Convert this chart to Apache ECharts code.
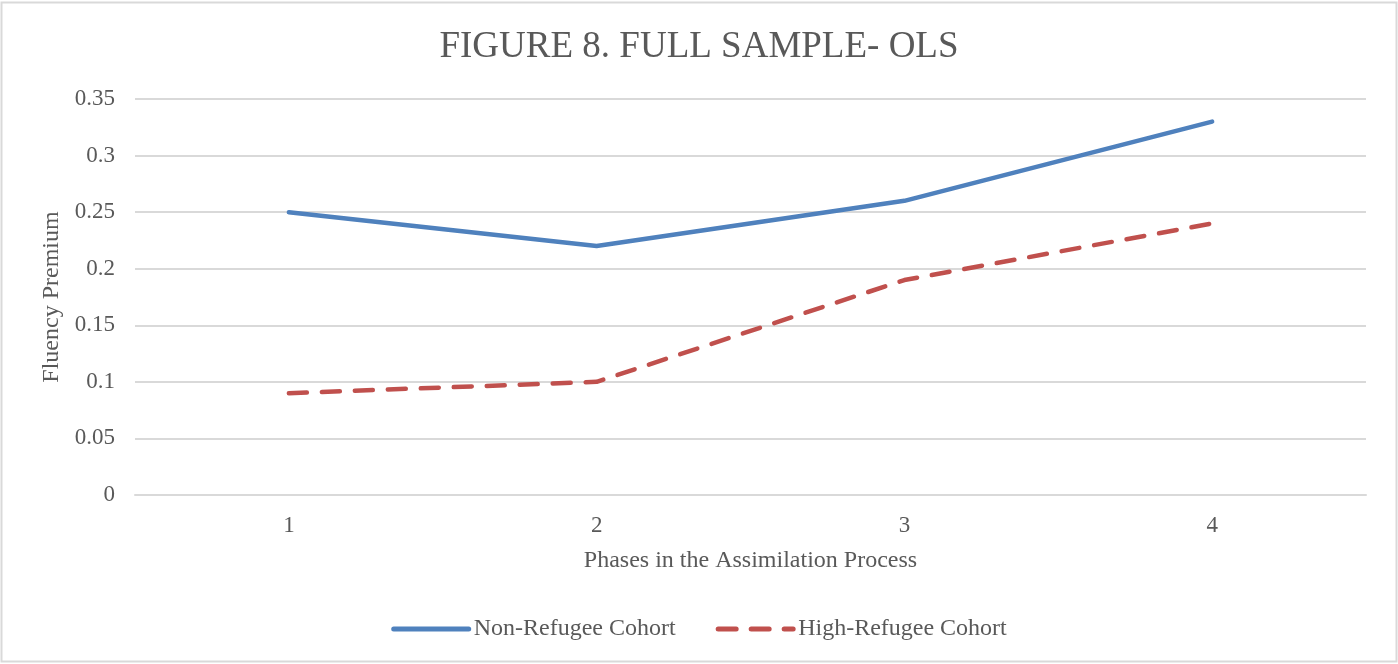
<!DOCTYPE html>
<html><head><meta charset="utf-8">
<script src="https://cdn.jsdelivr.net/npm/echarts@6/dist/echarts.min.js"></script>
<style>html,body{margin:0;padding:0;background:#fff}#c{width:1398px;height:664px}</style>
</head><body><div id="c"></div>
<script>
var categories = ['1', '2', '3', '4'];
var nonRefugee = [0.25, 0.22, 0.26, 0.33];
var highRefugee = [0.09, 0.10, 0.19, 0.24];
var seriesNames = ['Non-Refugee Cohort', 'High-Refugee Cohort'];
var titleText = 'FIGURE 8. FULL SAMPLE- OLS';
var xName = 'Phases in the Assimilation Process';
var yName = 'Fluency Premium';

var font = '"Liberation Serif", "Times New Roman", serif';
var chart = echarts.init(document.getElementById('c'), null, {renderer: 'canvas'});
chart.setOption({
  backgroundColor: '#fff',
  animation: false,
  graphic: [{type: 'rect', shape: {x: 1.5, y: 2.5, width: 1395, height: 659}, style: {fill: 'none', stroke: '#d9d9d9', lineWidth: 2}}],
  title: {text: titleText, left: 'center', top: 24, textStyle: {fontFamily: font, fontSize: 37, fontWeight: 'normal', color: '#595959'}},
  grid: {left: 135, right: 32, top: 99, bottom: 169},
  legend: {
    bottom: 18, left: 'center', itemWidth: 75, itemHeight: 12, itemGap: 40,
    textStyle: {fontFamily: font, fontSize: 24, color: '#595959'},
    itemStyle: {opacity: 0},
    lineStyle: {width: 5, cap: 'round'},
    data: seriesNames
  },
  xAxis: {
    type: 'category', data: categories, boundaryGap: true,
    name: xName, nameLocation: 'middle', nameGap: 54,
    nameTextStyle: {fontFamily: font, fontSize: 24, color: '#595959'},
    axisLine: {show: true, lineStyle: {color: '#d9d9d9', width: 2}},
    axisTick: {show: false},
    axisLabel: {fontFamily: font, fontSize: 23, color: '#595959', margin: 19}
  },
  yAxis: {
    type: 'value', min: 0, max: 0.35, interval: 0.05,
    name: yName, nameLocation: 'middle', nameGap: 71,
    nameTextStyle: {fontFamily: font, fontSize: 24, color: '#595959'},
    axisLine: {show: false}, axisTick: {show: false},
    axisLabel: {fontFamily: font, fontSize: 23, color: '#595959', margin: 20,
      formatter: function (v) { return String(parseFloat(v.toFixed(2))); }},
    splitLine: {lineStyle: {color: '#d9d9d9', width: 2}}
  },
  series: [
    {name: seriesNames[0], type: 'line', data: nonRefugee, symbol: 'none', color: '#4f81bd',
     lineStyle: {color: '#4f81bd', width: 4.5, cap: 'round', join: 'round'}},
    {name: seriesNames[1], type: 'line', data: highRefugee, symbol: 'none', color: '#c0504d',
     lineStyle: {color: '#c0504d', width: 4.5, type: [18, 15], cap: 'round', join: 'round'}}
  ]
});
</script></body></html>
